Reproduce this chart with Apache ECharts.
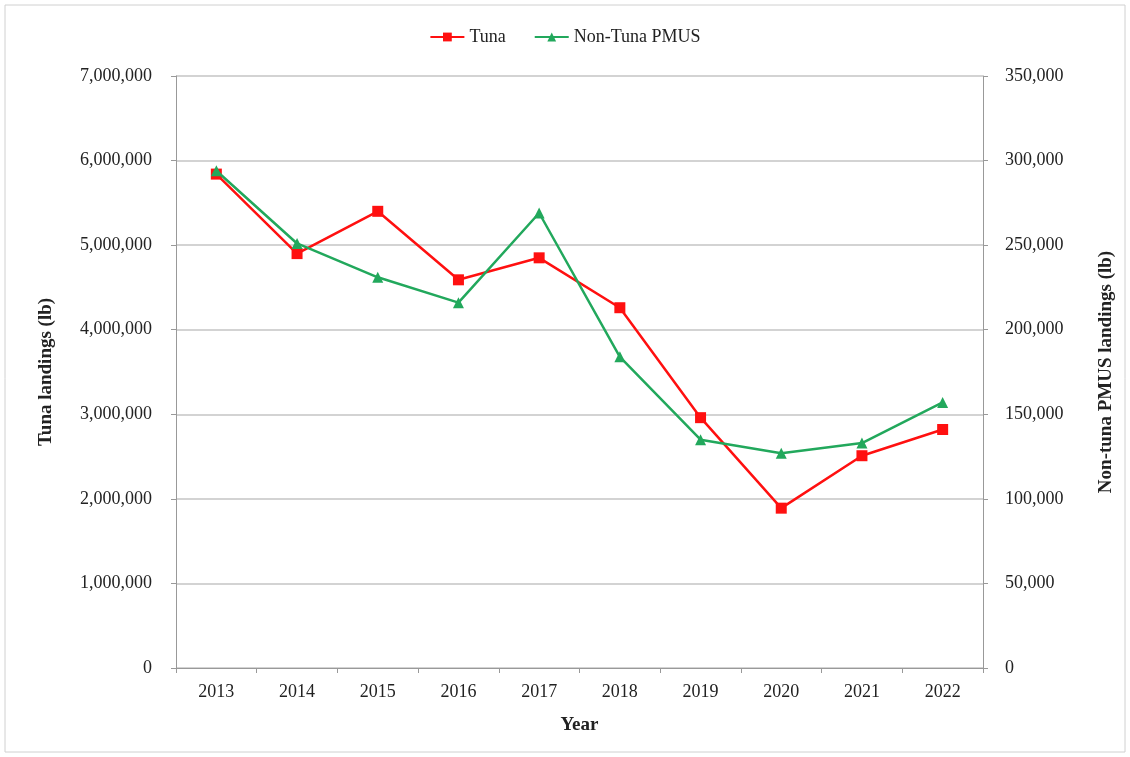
<!DOCTYPE html>
<html>
<head>
<meta charset="utf-8">
<title>Tuna and Non-Tuna PMUS landings</title>
<style>
    html, body { margin: 0; padding: 0; background: #fff; }
    #chart { width: 1130px; height: 757px; }
</style>
</head>
<body>
<div id="chart"></div>
<script src="https://cdn.jsdelivr.net/npm/echarts@6/dist/echarts.min.js"></script>
<script>
    var years = ['2013', '2014', '2015', '2016', '2017', '2018', '2019', '2020', '2021', '2022'];
    var tuna = [5840000, 4900000, 5400000, 4590000, 4850000, 4260000, 2960000, 1890000, 2510000, 2820000];
    var nonTuna = [294000, 251000, 231000, 216000, 269000, 184000, 135000, 127000, 133000, 157000];

    var serif = '"Liberation Serif", "Times New Roman", serif';
    var chart = echarts.init(document.getElementById('chart'));

    function fmt(v) {
        return v.toString().replace(/\B(?=(\d{3})+(?!\d))/g, ',');
    }

    var option = {
        backgroundColor: '#fff',
        animation: false,
        graphic: [{
            type: 'rect',
            shape: { x: 5, y: 5, width: 1120, height: 747 },
            style: { fill: 'none', stroke: '#d0d0d0', lineWidth: 1 }
        }],
        legend: {
            top: 23,
            left: 'center',
            itemWidth: 34,
            itemHeight: 11,
            itemGap: 28,
            textStyle: { fontFamily: serif, fontSize: 18, color: '#222' },
            data: ['Tuna', 'Non-Tuna PMUS']
        },
        grid: { left: 176, right: 147, top: 76, bottom: 89 },
        xAxis: {
            type: 'category',
            data: years,
            name: 'Year',
            nameLocation: 'middle',
            nameGap: 48,
            nameTextStyle: { fontFamily: serif, fontSize: 19, fontWeight: 'bold', color: '#222' },
            axisLine: { lineStyle: { color: '#999' } },
            axisTick: { show: true, alignWithLabel: false, length: 5, lineStyle: { color: '#999' } },
            axisLabel: { fontFamily: serif, fontSize: 18, color: '#222', margin: 15 }
        },
        yAxis: [{
            type: 'value',
            min: 0,
            max: 7000000,
            interval: 1000000,
            name: 'Tuna landings (lb)',
            nameLocation: 'middle',
            nameGap: 120,
            nameTextStyle: { fontFamily: serif, fontSize: 19, fontWeight: 'bold', color: '#222' },
            axisLine: { show: true, lineStyle: { color: '#999' } },
            axisTick: { show: true, length: 5, lineStyle: { color: '#999' } },
            axisLabel: { fontFamily: serif, fontSize: 18, color: '#222', margin: 24, formatter: fmt },
            splitLine: { show: true, lineStyle: { color: '#c4c4c4', width: 1.5 } }
        }, {
            type: 'value',
            min: 0,
            max: 350000,
            interval: 50000,
            position: 'right',
            name: 'Non-tuna PMUS landings (lb)',
            nameLocation: 'middle',
            nameGap: 114,
            nameTextStyle: { fontFamily: serif, fontSize: 19, fontWeight: 'bold', color: '#222' },
            axisLine: { show: true, lineStyle: { color: '#999' } },
            axisTick: { show: true, length: 5, lineStyle: { color: '#999' } },
            axisLabel: { fontFamily: serif, fontSize: 18, color: '#222', margin: 22, formatter: fmt },
            splitLine: { show: false }
        }],
        series: [{
            name: 'Tuna',
            type: 'line',
            yAxisIndex: 0,
            data: tuna,
            symbol: 'rect',
            symbolSize: 11,
            lineStyle: { color: '#ff1010', width: 2.5 },
            itemStyle: { color: '#ff1010' },
            z: 3
        }, {
            name: 'Non-Tuna PMUS',
            type: 'line',
            yAxisIndex: 1,
            data: nonTuna,
            symbol: 'triangle',
            symbolSize: 11,
            lineStyle: { color: '#22a85c', width: 2.5 },
            itemStyle: { color: '#22a85c' },
            z: 4
        }]
    };

    chart.setOption(option);
</script>
</body>
</html>
